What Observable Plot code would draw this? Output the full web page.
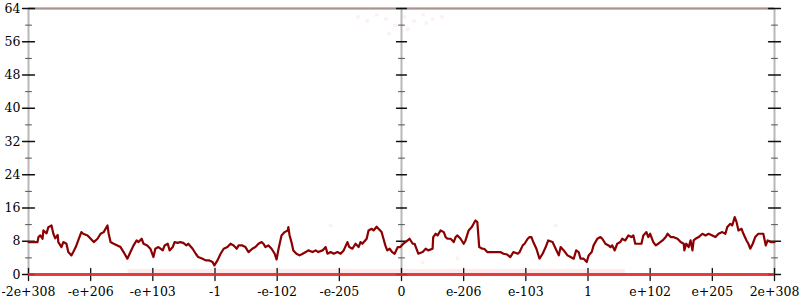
<!DOCTYPE html>
<html>
<head>
<meta charset="utf-8">
<script src="https://cdn.jsdelivr.net/npm/d3@7"></script>
<script src="https://cdn.jsdelivr.net/npm/@observablehq/plot@0.6"></script>
<style>
  html, body { margin: 0; padding: 0; background: #fff; }
  svg { display: block; }
  svg text { font-family: "DejaVu Serif", DejaVuSerif, "Liberation Serif", "Times New Roman", Times, serif !important; }
</style>
</head>
<body>
<div id="chart"></div>
<script>
// x positions are the index of the float-ordering tick (0 = -2e+308 ... 12 = 2e+308)
const xTickLabels = ["-2e+308","-e+206","-e+103","-1","-e-102","-e-205","0","e-206","e-103","1","e+102","e+205","2e+308"];
const xTickPos = [0,1,2,3,4,5,6,7,8,9,10,11,12];
const yMajor = [0,8,16,24,32,40,48,56,64];
const yMinor = [4,12,20,28,36,44,52,60];
const axisPos = [0, 6, 12];

const lineX = [0,0.145,0.16,0.19,0.225,0.24,0.29,0.32,0.37,0.40,0.43,0.47,0.48,0.53,0.56,0.61,0.64,0.69,0.72,0.76,0.80,0.85,0.88,0.95,1.00,1.05,1.11,1.16,1.21,1.24,1.27,1.29,1.32,1.37,1.43,1.48,1.53,1.59,1.64,1.69,1.74,1.77,1.82,1.85,1.91,1.96,2.01,2.04,2.09,2.16,2.19,2.24,2.27,2.32,2.35,2.40,2.44,2.49,2.54,2.57,2.64,2.69,2.73,2.80,2.85,2.90,2.96,2.99,3.04,3.09,3.14,3.20,3.25,3.30,3.35,3.38,3.44,3.49,3.54,3.60,3.65,3.70,3.75,3.78,3.81,3.86,3.91,3.96,3.99,4.02,4.07,4.12,4.17,4.18,4.20,4.23,4.26,4.31,4.36,4.41,4.46,4.50,4.57,4.62,4.66,4.73,4.78,4.81,4.86,4.91,4.97,5.02,5.07,5.13,5.16,5.21,5.26,5.31,5.34,5.37,5.44,5.47,5.52,5.55,5.60,5.63,5.68,5.71,5.74,5.77,5.81,5.85,5.89,5.94,5.98,6.03,6.10,6.13,6.18,6.21,6.24,6.27,6.34,6.39,6.43,6.50,6.51,6.55,6.58,6.63,6.68,6.71,6.74,6.79,6.84,6.87,6.90,6.95,7.00,7.03,7.08,7.13,7.16,7.19,7.22,7.25,7.30,7.33,7.38,7.43,7.48,7.54,7.59,7.64,7.70,7.75,7.80,7.87,7.90,7.95,7.98,8.03,8.06,8.09,8.12,8.17,8.22,8.27,8.32,8.36,8.43,8.48,8.53,8.56,8.61,8.67,8.72,8.77,8.81,8.85,8.88,8.93,8.98,9.01,9.06,9.09,9.15,9.20,9.23,9.28,9.33,9.36,9.39,9.43,9.47,9.52,9.55,9.60,9.65,9.70,9.73,9.76,9.81,9.86,9.89,9.94,9.97,10.00,10.05,10.09,10.13,10.20,10.25,10.28,10.33,10.37,10.44,10.49,10.54,10.55,10.58,10.62,10.65,10.68,10.70,10.73,10.78,10.84,10.89,10.94,11.00,11.05,11.10,11.16,11.21,11.24,11.29,11.32,11.36,11.39,11.42,11.47,11.50,11.55,11.58,11.61,11.65,11.69,11.74,11.82,11.86,11.89,11.94,12];
const lineY = [7.8,7.8,9,9.4,8.6,10.6,9.9,11.4,11.8,9.8,8.7,9.5,7.8,6.6,7.8,7.4,5.4,4.6,5.4,6.6,8.2,10.2,9.8,9.4,8.6,7.8,8.6,9.8,10.2,11,11.8,9.8,7.8,7.4,7,6.6,5.4,3.8,5.4,7,8.2,7.8,8.6,7.4,7,6.2,4.2,6.2,6.6,5.8,7,7.4,5.8,6.6,7.8,7.6,7.8,7.6,7,7.4,6.2,5,4.2,3.8,3.4,3.4,3,2.2,3.4,5,6.2,6.6,7.4,7,6.2,7,7,6.6,5.4,6.2,6.6,7.4,7.8,7.4,6.6,7,6.2,5,3.6,6,9.4,10.2,10.6,11.4,9.4,7.8,5.8,5,4.6,5,5.4,5.8,5.4,5.8,5.4,5.8,6.6,5,5.4,5,5.4,5,5.8,7.8,6.6,6.2,7.4,6.6,7.8,7.4,8.6,10.6,11,10.6,11.5,11,10.2,8.6,7,5.8,6.2,5.4,5,6.6,6.6,7.4,8.2,8.6,7.4,7.4,6.2,5,5.4,6.2,5.8,6.2,9,9.8,9.4,10.6,10.2,9,8.6,8.6,7.8,9,9.4,8.6,7.4,8.2,10.6,11.4,12.2,13,12.6,6.6,6.2,6.2,5.4,5.4,5.4,5.4,5.4,5,4.8,4.2,5.4,5,5.4,7,7.4,8.6,9,9,7.8,6.2,3.8,5,6.6,8.2,7.8,6.2,4.6,6.6,5.8,4.6,4.2,3.8,5.8,5.4,3.8,3.8,3,4.6,5.4,7,8.6,9,8.6,7.4,7,6.6,7,5.8,7.4,7.8,8.6,8.2,9.4,9,9.4,7.4,7.4,7.4,9.4,10.2,9,9.8,7.8,7,7.4,8.2,9,9.8,9,9,8.6,7.8,7.4,5.8,7.4,6.6,8.2,5.8,8.2,8.6,9,9.8,9.4,9.8,9.4,9,9.8,10.2,9.8,11.4,12.2,11.8,13.8,12.6,10.6,11,9.8,8.2,7.4,6.2,7.4,9,9.8,9.8,7,8.2,7.8,7.8];
const line = lineX.map((x, i) => ({x, y: lineY[i]}));

// faint scattered points near top / elsewhere
const faintX = [5.3,5.45,5.6,5.75,5.9,6.05,6.2,6.35,6.5,6.65,5.8,6.1,6.4,4.86,6.34,6.9,8.48,3.0];
const faintY = [62,61,62.5,61.5,60,62,61,62.5,61.5,62,58,59,60.5,11.8,2.9,3.9,11.8,1.8];
const faint = faintX.map((x, i) => ({x, y: faintY[i]}));
// faint noise band along the zero line
const bandX1 = [1.6]; const bandX2 = [9.6]; const bandTop = [1.2];

const font = "DejaVu Serif, Liberation Serif, Times New Roman, serif";
const tickShape = {draw(ctx, l) { ctx.moveTo(0, 0); ctx.lineTo(0, -l); }};

const chart = Plot.plot({
  width: 800,
  height: 300,
  marginLeft: 28,
  marginRight: 26,
  marginTop: 8,
  marginBottom: 26,
  x: {domain: [0, 12], axis: null},
  y: {domain: [0, 64], axis: null},
  style: {fontFamily: font, fontSize: "12.5px", background: "#fff"},
  marks: [
    Plot.rect(bandX1.map((x1, i) => ({x1, x2: bandX2[i], y1: 0, y2: bandTop[i]})),
      {x1: "x1", x2: "x2", y1: "y1", y2: "y2", fill: "#f4a6a6", fillOpacity: 0.22}),
    Plot.ruleX(axisPos, {stroke: "#b8b8b8", strokeWidth: 2}),
    Plot.ruleY([64], {stroke: "#9a9a9a", strokeWidth: 2}),
    Plot.ruleY([64], {stroke: "#f06a6a", strokeWidth: 3, strokeOpacity: 0.2}),
    Plot.dot(faint, {x: "x", y: "y", r: 2, fill: "#f08080", fillOpacity: 0.12}),
    ...axisPos.map(p => Plot.vector(yMajor, {x: () => p, y: d => d, length: p === 6 ? 10 : 12, rotate: 90, anchor: "middle", stroke: "#111", strokeWidth: 1.3, shape: tickShape})),
    ...axisPos.map(p => Plot.vector(yMinor, {x: () => p, y: d => d, length: 6, rotate: 90, anchor: "middle", stroke: "#555", strokeWidth: 1, shape: tickShape})),
    Plot.vector(xTickPos, {x: d => d, y: () => 0, length: 12, rotate: 0, anchor: "middle", stroke: "#111", strokeWidth: 1.3, shape: tickShape}),
    Plot.ruleY([0], {stroke: "#e3262a", strokeWidth: 3, strokeOpacity: 0.9}),
    Plot.line(line, {x: "x", y: "y", stroke: "#8b0000", strokeWidth: 2.2, strokeLinejoin: "round"}),
    Plot.text(yMajor, {x: () => 0, y: d => d, text: d => String(d), textAnchor: "end", dx: -8, fill: "#000", fontSize: 12.5, fontFamily: font}),
    Plot.text(xTickPos, {x: d => d, y: () => 0, text: (d, i) => xTickLabels[i], dy: 17, fill: "#000", fontSize: 12.5, fontFamily: font})
  ]
});
document.getElementById("chart").appendChild(chart);
</script>
</body>
</html>
